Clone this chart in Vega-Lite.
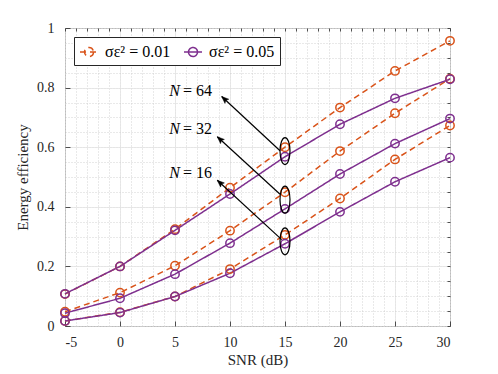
{
  "$schema": "https://vega.github.io/schema/vega-lite/v6.json",
  "width": 385,
  "height": 298,
  "autosize": {"type": "none"},
  "padding": {"left": 65, "top": 28, "right": 48, "bottom": 48},
  "background": "white",
  "config": {
    "font": "'Liberation Serif', serif",
    "view": {"stroke": "#262626", "strokeWidth": 1},
    "axis": {
      "labelFont": "'Liberation Serif', serif",
      "labelFontSize": 14,
      "labelColor": "#262626",
      "titleFont": "'Liberation Serif', serif",
      "titleFontSize": 15,
      "titleFontWeight": "normal",
      "titleColor": "#262626",
      "domain": false,
      "tickColor": "#262626",
      "tickWidth": 0.8
    }
  },
  "datasets": {
    "series": [
      {"snr": -5, "ee": 0.107, "s": "σε² = 0.01", "N": 64},
      {"snr": 0, "ee": 0.2, "s": "σε² = 0.01", "N": 64},
      {"snr": 5, "ee": 0.325, "s": "σε² = 0.01", "N": 64},
      {"snr": 10, "ee": 0.464, "s": "σε² = 0.01", "N": 64},
      {"snr": 15, "ee": 0.6, "s": "σε² = 0.01", "N": 64},
      {"snr": 20, "ee": 0.733, "s": "σε² = 0.01", "N": 64},
      {"snr": 25, "ee": 0.856, "s": "σε² = 0.01", "N": 64},
      {"snr": 30, "ee": 0.957, "s": "σε² = 0.01", "N": 64},
      {"snr": -5, "ee": 0.048, "s": "σε² = 0.01", "N": 32},
      {"snr": 0, "ee": 0.112, "s": "σε² = 0.01", "N": 32},
      {"snr": 5, "ee": 0.202, "s": "σε² = 0.01", "N": 32},
      {"snr": 10, "ee": 0.32, "s": "σε² = 0.01", "N": 32},
      {"snr": 15, "ee": 0.449, "s": "σε² = 0.01", "N": 32},
      {"snr": 20, "ee": 0.587, "s": "σε² = 0.01", "N": 32},
      {"snr": 25, "ee": 0.714, "s": "σε² = 0.01", "N": 32},
      {"snr": 30, "ee": 0.83, "s": "σε² = 0.01", "N": 32},
      {"snr": -5, "ee": 0.017, "s": "σε² = 0.01", "N": 16},
      {"snr": 0, "ee": 0.046, "s": "σε² = 0.01", "N": 16},
      {"snr": 5, "ee": 0.099, "s": "σε² = 0.01", "N": 16},
      {"snr": 10, "ee": 0.191, "s": "σε² = 0.01", "N": 16},
      {"snr": 15, "ee": 0.306, "s": "σε² = 0.01", "N": 16},
      {"snr": 20, "ee": 0.428, "s": "σε² = 0.01", "N": 16},
      {"snr": 25, "ee": 0.559, "s": "σε² = 0.01", "N": 16},
      {"snr": 30, "ee": 0.673, "s": "σε² = 0.01", "N": 16},
      {"snr": -5, "ee": 0.108, "s": "σε² = 0.05", "N": 64},
      {"snr": 0, "ee": 0.2, "s": "σε² = 0.05", "N": 64},
      {"snr": 5, "ee": 0.321, "s": "σε² = 0.05", "N": 64},
      {"snr": 10, "ee": 0.443, "s": "σε² = 0.05", "N": 64},
      {"snr": 15, "ee": 0.568, "s": "σε² = 0.05", "N": 64},
      {"snr": 20, "ee": 0.677, "s": "σε² = 0.05", "N": 64},
      {"snr": 25, "ee": 0.764, "s": "σε² = 0.05", "N": 64},
      {"snr": 30, "ee": 0.828, "s": "σε² = 0.05", "N": 64},
      {"snr": -5, "ee": 0.043, "s": "σε² = 0.05", "N": 32},
      {"snr": 0, "ee": 0.093, "s": "σε² = 0.05", "N": 32},
      {"snr": 5, "ee": 0.174, "s": "σε² = 0.05", "N": 32},
      {"snr": 10, "ee": 0.278, "s": "σε² = 0.05", "N": 32},
      {"snr": 15, "ee": 0.393, "s": "σε² = 0.05", "N": 32},
      {"snr": 20, "ee": 0.51, "s": "σε² = 0.05", "N": 32},
      {"snr": 25, "ee": 0.612, "s": "σε² = 0.05", "N": 32},
      {"snr": 30, "ee": 0.696, "s": "σε² = 0.05", "N": 32},
      {"snr": -5, "ee": 0.017, "s": "σε² = 0.05", "N": 16},
      {"snr": 0, "ee": 0.045, "s": "σε² = 0.05", "N": 16},
      {"snr": 5, "ee": 0.099, "s": "σε² = 0.05", "N": 16},
      {"snr": 10, "ee": 0.177, "s": "σε² = 0.05", "N": 16},
      {"snr": 15, "ee": 0.276, "s": "σε² = 0.05", "N": 16},
      {"snr": 20, "ee": 0.383, "s": "σε² = 0.05", "N": 16},
      {"snr": 25, "ee": 0.484, "s": "σε² = 0.05", "N": 16},
      {"snr": 30, "ee": 0.565, "s": "σε² = 0.05", "N": 16}
    ],
    "ellipses": [
      {"x": 15, "y": 0.587},
      {"x": 15, "y": 0.424},
      {"x": 15, "y": 0.284}
    ],
    "arrows": [
      {"x": 14.55, "y": 0.588, "x2": 9.245, "y2": 0.77},
      {"x": 14.55, "y": 0.442, "x2": 8.845, "y2": 0.635},
      {"x": 14.7, "y": 0.29, "x2": 8.845, "y2": 0.489}
    ],
    "labels": [
      {"x": 5.45, "y": 0.79, "n": "= 64"},
      {"x": 5.45, "y": 0.661, "n": "= 32"},
      {"x": 5.45, "y": 0.515, "n": "= 16"}
    ]
  },
  "resolve": {"axis": {"x": "independent", "y": "independent"}},
  "layer": [
    {
      "data": {"name": "series"},
      "mark": {"type": "point", "opacity": 0},
      "encoding": {
        "x": {"field": "snr", "type": "quantitative", "scale": {"domain": [-5, 30], "nice": false, "zero": false},
          "axis": {"orient": "top", "values": [-5,-4,-3,-2,-1,0,1,2,3,4,5,6,7,8,9,10,11,12,13,14,15,16,17,18,19,20,21,22,23,24,25,26,27,28,29,30],
            "grid": true, "gridDash": [1, 2], "gridColor": "#c8c8c8", "gridWidth": 0.8, "labels": false, "tickSize": -3, "title": null}},
        "y": {"field": "ee", "type": "quantitative", "scale": {"domain": [0, 1], "nice": false, "zero": false},
          "axis": {"orient": "right", "values": [0,0.05,0.1,0.15,0.2,0.25,0.3,0.35,0.4,0.45,0.5,0.55,0.6,0.65,0.7,0.75,0.8,0.85,0.9,0.95,1],
            "grid": true, "gridDash": [1, 2], "gridColor": "#c8c8c8", "gridWidth": 0.8, "labels": false, "tickSize": -3, "title": null}}
      }
    },
    {
      "data": {"name": "series"},
      "mark": {"type": "line", "strokeWidth": 1.5},
      "encoding": {
        "x": {"field": "snr", "type": "quantitative",
          "axis": {"orient": "bottom", "values": [-5, 0, 5, 10, 15, 20, 25, 30], "labelExpr": "'' + datum.value",
            "grid": true, "gridColor": "#e3e3e3", "gridWidth": 0.8, "tickSize": -5, "labelPadding": 14, "title": "SNR (dB)", "titlePadding": 3}},
        "y": {"field": "ee", "type": "quantitative",
          "axis": {"orient": "left", "values": [0, 0.2, 0.4, 0.6, 0.8, 1], "format": ".1~f",
            "grid": true, "gridColor": "#e3e3e3", "gridWidth": 0.8, "tickSize": -5, "labelPadding": 16, "title": "Energy efficiency", "titlePadding": 6}},
        "color": {"field": "s", "type": "nominal", "title": null,
          "scale": {"domain": ["σε² = 0.01", "σε² = 0.05"], "range": ["#D95319", "#7E2F8E"]},
          "legend": {"orient": "top-left", "offset": 9, "direction": "horizontal", "fillColor": "white", "strokeColor": "#262626",
            "padding": 5, "symbolType": "M-1,0L1,0M0.5,0A0.5,0.5 0 1,1 -0.5,0A0.5,0.5 0 1,1 0.5,0", "symbolSize": 324,
            "symbolStrokeWidth": 1.5, "labelFont": "'Liberation Serif', serif", "labelFontSize": 16, "labelColor": "black", "columnPadding": 10, "labelOffset": 6, "labelLimit": 200}},
        "strokeDash": {"field": "s", "type": "nominal", "title": null,
          "scale": {"domain": ["σε² = 0.01", "σε² = 0.05"], "range": [[6, 4], [1, 0]]},
          "legend": {"orient": "top-left", "offset": 9, "direction": "horizontal", "fillColor": "white", "strokeColor": "#262626",
            "padding": 5, "symbolType": "M-1,0L1,0M0.5,0A0.5,0.5 0 1,1 -0.5,0A0.5,0.5 0 1,1 0.5,0", "symbolSize": 324,
            "symbolStrokeWidth": 1.5, "labelFont": "'Liberation Serif', serif", "labelFontSize": 16, "labelColor": "black", "columnPadding": 10, "labelOffset": 6, "labelLimit": 200}},
        "detail": {"field": "N", "type": "nominal"}
      }
    },
    {
      "data": {"name": "series"},
      "mark": {"type": "point", "shape": "circle", "filled": false, "size": 70, "strokeWidth": 1.5, "opacity": 1},
      "encoding": {
        "x": {"field": "snr", "type": "quantitative", "axis": null},
        "y": {"field": "ee", "type": "quantitative", "axis": null},
        "color": {"field": "s", "type": "nominal", "legend": null}
      }
    },
    {
      "data": {"name": "ellipses"},
      "mark": {"type": "point", "shape": "M0,-1A0.37,1 0 1,1 0,1A0.37,1 0 1,1 0,-1Z", "size": 729, "filled": false, "stroke": "black", "strokeWidth": 1.2, "opacity": 1},
      "encoding": {
        "x": {"field": "x", "type": "quantitative", "axis": null},
        "y": {"field": "y", "type": "quantitative", "axis": null}
      }
    },
    {
      "data": {"name": "arrows"},
      "mark": {"type": "rule", "color": "black", "strokeWidth": 1.2},
      "encoding": {
        "x": {"field": "x", "type": "quantitative", "axis": null},
        "y": {"field": "y", "type": "quantitative", "axis": null},
        "x2": {"field": "x2"},
        "y2": {"field": "y2"}
      }
    },
    {
      "data": {"name": "arrows"},
      "mark": {"type": "point", "shape": "M0,0L-0.4,1L0,0.8L0.4,1Z", "size": 196, "filled": true, "fill": "black", "stroke": "black", "strokeWidth": 0.5, "angle": 312.5, "opacity": 1},
      "encoding": {
        "x": {"field": "x2", "type": "quantitative", "axis": null},
        "y": {"field": "y2", "type": "quantitative", "axis": null}
      }
    },
    {
      "data": {"name": "labels"},
      "mark": {"type": "text", "text": "N", "font": "'Liberation Serif', serif", "fontStyle": "italic", "fontSize": 16, "align": "right", "baseline": "middle", "color": "black"},
      "encoding": {
        "x": {"field": "x", "type": "quantitative", "axis": null},
        "y": {"field": "y", "type": "quantitative", "axis": null}
      }
    },
    {
      "data": {"name": "labels"},
      "mark": {"type": "text", "font": "'Liberation Serif', serif", "fontSize": 16, "align": "left", "baseline": "middle", "dx": 3, "color": "black"},
      "encoding": {
        "x": {"field": "x", "type": "quantitative", "axis": null},
        "y": {"field": "y", "type": "quantitative", "axis": null},
        "text": {"field": "n"}
      }
    }
  ]
}
